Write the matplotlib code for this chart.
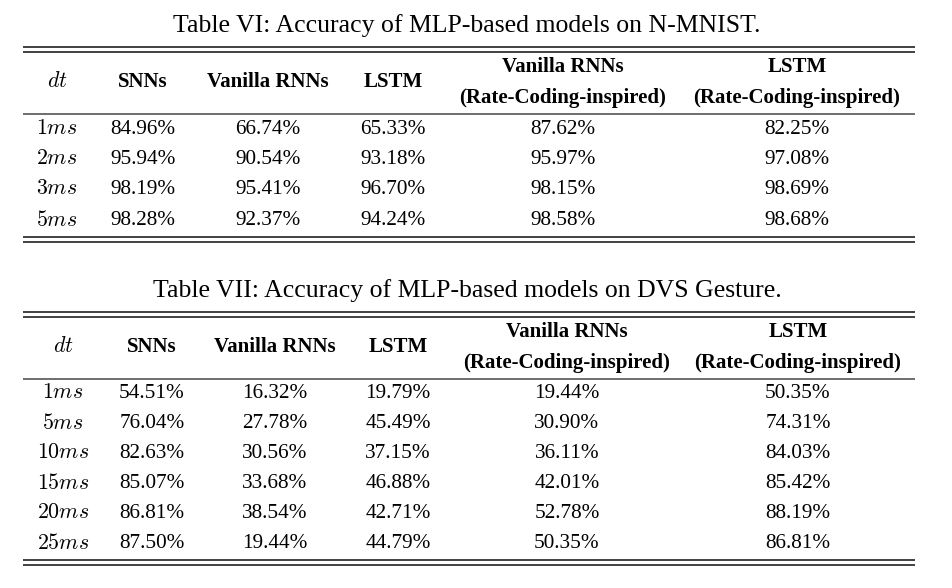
import matplotlib.pyplot as plt

plt.rcParams['font.family'] = ['Liberation Serif', 'DejaVu Serif']
plt.rcParams['mathtext.fontset'] = 'cm'

# table contents
headers = ['SNNs', 'Vanilla RNNs', 'LSTM',
           'Vanilla RNNs\n(Rate-Coding-inspired)', 'LSTM\n(Rate-Coding-inspired)']

title6 = 'Table VI: Accuracy of MLP-based models on N-MNIST.'
dt6 = ['1', '2', '3', '5']
snn6 = ['84.96%', '95.94%', '98.19%', '98.28%']
rnn6 = ['66.74%', '90.54%', '95.41%', '92.37%']
lstm6 = ['65.33%', '93.18%', '96.70%', '94.24%']
rnn_rate6 = ['87.62%', '95.97%', '98.15%', '98.58%']
lstm_rate6 = ['82.25%', '97.08%', '98.69%', '98.68%']

title7 = 'Table VII: Accuracy of MLP-based models on DVS Gesture.'
dt7 = ['1', '5', '10', '15', '20', '25']
snn7 = ['54.51%', '76.04%', '82.63%', '85.07%', '86.81%', '87.50%']
rnn7 = ['16.32%', '27.78%', '30.56%', '33.68%', '38.54%', '19.44%']
lstm7 = ['19.79%', '45.49%', '37.15%', '46.88%', '42.71%', '44.79%']
rnn_rate7 = ['19.44%', '30.90%', '36.11%', '42.01%', '52.78%', '50.35%']
lstm_rate7 = ['50.35%', '74.31%', '84.03%', '85.42%', '88.19%', '86.81%']

fig = plt.figure(figsize=(9.53, 5.88), dpi=100)
ax = fig.add_axes([0, 0, 1, 1])
ax.set_xlim(0, 953)
ax.set_ylim(588, 0)
ax.axis('off')

X0, X1 = 23, 915
FS = 15.3
HFS = 15
line_c = '#333333'


def draw_table(top, title, dts, cols, colx, row0, step):
    ax.text(467, top - 21, title, ha='center', va='center', fontsize=18.5)
    ax.hlines([top, top + 5], X0, X1, color=line_c, lw=1.3)
    hy = top + 35
    ax.text(colx[0], hy, '$dt$', ha='center', va='center', fontsize=FS + 0.5)
    for x, h in zip(colx[1:], headers):
        if '\n' in h:
            a, b = h.split('\n')
            ax.text(x, hy - 15, a, ha='center', va='center', fontsize=HFS, fontweight='bold')
            ax.text(x, hy + 16, b, ha='center', va='center', fontsize=HFS, fontweight='bold')
        else:
            ax.text(x, hy, h, ha='center', va='center', fontsize=HFS, fontweight='bold')
    ax.hlines(top + 67, X0, X1, color='#555555', lw=1.2)
    for i, d in enumerate(dts):
        y = row0 + i * step
        ax.text(colx[0], y, '$' + d + 'ms$', ha='center', va='center', fontsize=FS + 0.5)
        for x, col in zip(colx[1:], cols):
            ax.text(x, y, col[i], ha='center', va='center', fontsize=FS)
    yb = row0 + (len(dts) - 1) * step + 16
    ax.hlines([yb, yb + 5], X0, X1, color=line_c, lw=1.3)


draw_table(47, title6, dt6, [snn6, rnn6, lstm6, rnn_rate6, lstm_rate6],
           [57, 143, 268, 393, 563, 797], 129, 30.5)
draw_table(312, title7, dt7, [snn7, rnn7, lstm7, rnn_rate7, lstm_rate7],
           [63, 152, 275, 398, 567, 798], 394, 30)

fig.savefig('out.png', dpi=100)
